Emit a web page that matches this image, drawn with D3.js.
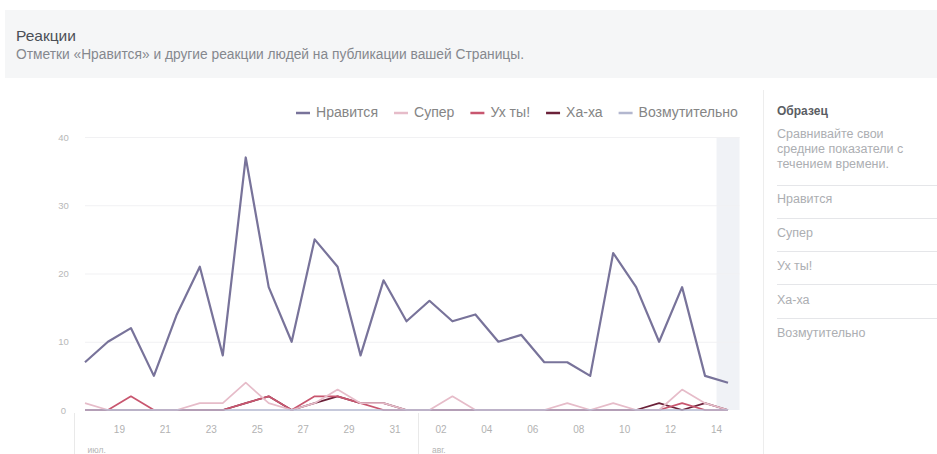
<!DOCTYPE html>
<html>
<head>
<meta charset="utf-8">
<script src="https://cdn.jsdelivr.net/npm/d3@7"></script>
<style>
  html, body { margin: 0; padding: 0; background: #fff; }
  svg { display: block; font-family: "Liberation Sans", Arial, sans-serif; }
</style>
</head>
<body>
<svg id="chart" width="937" height="454"></svg>
<script>
// Daily reactions on the Page's posts
const days = [
  "2017-07-17","2017-07-18","2017-07-19","2017-07-20","2017-07-21","2017-07-22","2017-07-23",
  "2017-07-24","2017-07-25","2017-07-26","2017-07-27","2017-07-28","2017-07-29","2017-07-30",
  "2017-07-31","2017-08-01","2017-08-02","2017-08-03","2017-08-04","2017-08-05","2017-08-06",
  "2017-08-07","2017-08-08","2017-08-09","2017-08-10","2017-08-11","2017-08-12","2017-08-13",
  "2017-08-14"
];
const likes   = [7,10,12,5,14,21,8,37,18,10,25,21,8,19,13,16,13,14,10,11,7,7,5,23,18,10,18,5,4];
const love    = [1,0,0,0,0,1,1,4,1,0,1,3,1,1,0,0,2,0,0,0,0,1,0,1,0,0,3,1,0];
const wow     = [0,0,2,0,0,0,0,1,2,0,2,2,1,0,0,0,0,0,0,0,0,0,0,0,0,0,1,0,0];
const haha    = [0,0,0,0,0,0,0,1,2,0,1,2,1,1,0,0,0,0,0,0,0,0,0,0,0,1,0,1,0];
const angry   = [0,0,0,0,0,0,0,0,0,0,0,0,0,0,0,0,0,0,0,0,0,0,0,0,0,0,0,0,0];

const seriesNames = ["Нравится","Супер","Ух ты!","Ха-ха","Возмутительно"];
const seriesColors = ["#78739a","#e6bcc9","#c8566f","#6b2139","#b3b7cf"];
const seriesValues = [likes, love, wow, haha, angry];

const yTicks = [0,10,20,30,40];
const xTickDays = ["2017-07-19","2017-07-21","2017-07-23","2017-07-25","2017-07-27","2017-07-29",
  "2017-07-31","2017-08-02","2017-08-04","2017-08-06","2017-08-08","2017-08-10","2017-08-12","2017-08-14"];
const months = [{start:"2017-07-17", label:"июл."},{start:"2017-08-01", label:"авг."}];

const title = "Реакции";
const subtitle = "Отметки «Нравится» и другие реакции людей на публикации вашей Страницы.";
const sideHead = "Образец";
const sideText = ["Сравнивайте свои","средние показатели с","течением времени."];

const parse = d3.timeParse("%Y-%m-%d");
const svg = d3.select("#chart");

// scale a text's font size so its drawn width matches a target width
function fitWidth(sel, width) {
  const w = sel.node().getComputedTextLength();
  const fs = parseFloat(sel.attr("font-size"));
  sel.attr("font-size", (fs * width / w).toFixed(2));
}

// header band
svg.append("rect").attr("x",5).attr("y",10).attr("width",932).attr("height",68).attr("fill","#f5f6f7");
const t = svg.append("text").attr("x",16).attr("y",41).attr("font-size",15).attr("fill","#4b4f56").text(title);
fitWidth(t, 60);
const st = svg.append("text").attr("x",16).attr("y",59).attr("font-size",11).attr("fill","#85888e").text(subtitle);
fitWidth(st, 508);

// scales
const start = parse(days[0]);
const end = d3.timeDay.offset(parse(days[days.length-1]), 1);
const x = d3.scaleTime().domain([start, end]).range([73.5, 739.5]);
const y = d3.scaleLinear().domain([0, 40]).range([410, 137]);
const mid = d => d3.timeHour.offset(parse(d), 12);

// shaded current day
const lastDay = parse(days[days.length-1]);
svg.append("rect")
  .attr("x", x(lastDay)).attr("y", y(40))
  .attr("width", x(end) - x(lastDay)).attr("height", y(0) - y(40))
  .attr("fill", "#f0f2f6");

// horizontal grid
const gridG = svg.append("g").attr("transform", `translate(${x.range()[1]},0)`);
gridG.call(d3.axisLeft(y).tickValues(yTicks.filter(v => v > 0)).tickSize(x.range()[1] - x(mid(days[0]))).tickFormat(""));
gridG.select(".domain").remove();
gridG.selectAll("line").attr("stroke", "#f1f1f3").attr("stroke-width", 1);

// y labels
svg.append("g").selectAll("text").data(yTicks).join("text")
  .attr("x", 63.5).attr("y", d => y(d) + 3.5)
  .attr("text-anchor", "middle").attr("font-size", 9.5).attr("fill", "#b8b8b8")
  .text(d => d);

// x axis labels and month separators
const xg = svg.append("g");
xg.selectAll("text.day").data(xTickDays).join("text").attr("class","day")
  .attr("x", d => x(parse(d))).attr("y", 433)
  .attr("text-anchor","middle").attr("font-size", 10).attr("fill","#b2b2b2")
  .text(d => d3.timeFormat("%d")(parse(d)));
xg.selectAll("line.month").data(months).join("line").attr("class","month")
  .attr("x1", d => Math.round(x(parse(d.start))) + 0.5).attr("x2", d => Math.round(x(parse(d.start))) + 0.5)
  .attr("y1", 413).attr("y2", 454).attr("stroke","#e9e9e9");
xg.selectAll("text.month").data(months).join("text").attr("class","month")
  .attr("x", d => x(parse(d.start)) + 14).attr("y", 453)
  .attr("font-size", 8.5).attr("fill","#b4b4b4").text(d => d.label);

// lines: smaller reactions first, the zero-heavy series and likes on top
const line = d3.line().x((v,i) => x(mid(days[i]))).y(v => y(v));
const order = [3,2,1,4,0];
svg.append("g").selectAll("path").data(order).join("path")
  .attr("d", k => line(seriesValues[k]))
  .attr("fill","none")
  .attr("stroke", k => seriesColors[k])
  .attr("stroke-width", k => k === 0 ? 2.2 : 1.7)
  .attr("stroke-linejoin","round");

// legend, right-aligned to the plot
const legend = svg.append("g");
const dash = 14, gapIn = 6, gapOut = 16, legendRight = 738, legendLeft = 296;
const lt = legend.selectAll("text").data(seriesNames).join("text")
  .attr("font-size", 12).attr("fill", "#858585").attr("y", 117).text(d => d);
let textTotal = 0;
lt.each(function(){ textTotal += this.getComputedTextLength(); });
const fixed = seriesNames.length * (dash + gapIn) + (seriesNames.length - 1) * gapOut;
const lfs = 12 * (legendRight - legendLeft - fixed) / textTotal;
lt.attr("font-size", lfs.toFixed(2));
let cx = legendLeft;
lt.each(function(d, i){
  const w = this.getComputedTextLength();
  legend.append("line").attr("x1", cx).attr("x2", cx + dash).attr("y1", 113).attr("y2", 113)
    .attr("stroke", seriesColors[i]).attr("stroke-width", 2.5);
  d3.select(this).attr("x", cx + dash + gapIn);
  cx += dash + gapIn + w + gapOut;
});

// side panel
svg.append("line").attr("x1",763.5).attr("x2",763.5).attr("y1",90).attr("y2",454).attr("stroke","#ededed");
const side = svg.append("g");
side.append("text").attr("x",777).attr("y",115).attr("font-size",12).attr("font-weight","bold")
  .attr("fill","#5a5d63").text(sideHead);
side.selectAll("text.desc").data(sideText).join("text").attr("class","desc")
  .attr("x",777).attr("y",(d,i) => 138 + i*15).attr("font-size",12.5).attr("fill","#acaeb2").text(d => d);
const sepY = [185,218,251,284,318];
side.selectAll("line.sep").data(sepY).join("line").attr("class","sep")
  .attr("x1",777).attr("x2",937).attr("y1",d => d + 0.5).attr("y2",d => d + 0.5).attr("stroke","#e5e6e9");
side.selectAll("text.name").data(seriesNames).join("text").attr("class","name")
  .attr("x",777).attr("y",(d,i) => 203 + i*33.6).attr("font-size",12.5).attr("fill","#acaeb2").text(d => d);
</script>
</body>
</html>
